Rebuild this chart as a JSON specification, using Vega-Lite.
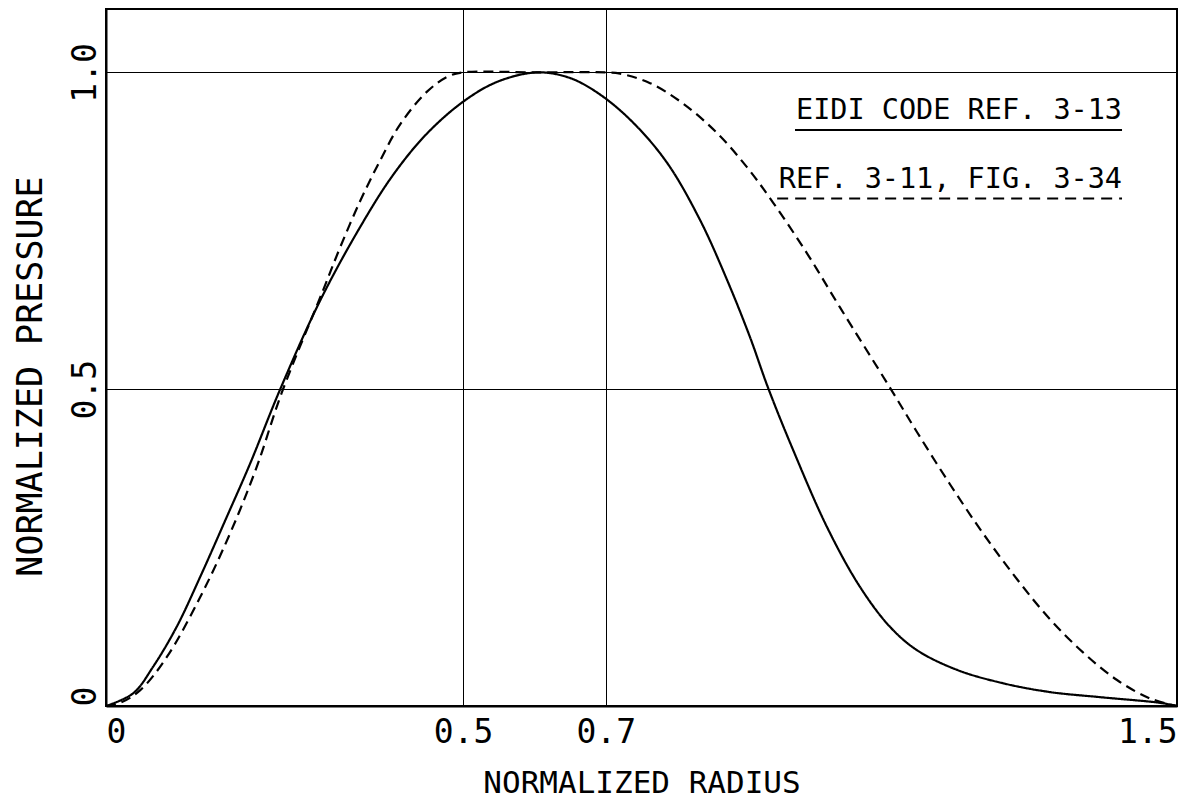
{
  "$schema": "https://vega.github.io/schema/vega-lite/v6.json",
  "width": 1071,
  "height": 697,
  "autosize": "none",
  "padding": {"left": 106, "top": 9, "right": 15, "bottom": 100},
  "background": "white",
  "config": {
    "view": {"stroke": "black", "strokeWidth": 2},
    "font": "DejaVu Sans Mono"
  },
  "data": {
    "values": [
      {"series": "EIDI", "r": 0, "p": 0},
      {"series": "EIDI", "r": 0.038, "p": 0.02},
      {"series": "EIDI", "r": 0.066, "p": 0.062},
      {"series": "EIDI", "r": 0.099, "p": 0.125},
      {"series": "EIDI", "r": 0.132, "p": 0.204},
      {"series": "EIDI", "r": 0.169, "p": 0.298},
      {"series": "EIDI", "r": 0.202, "p": 0.383},
      {"series": "EIDI", "r": 0.244, "p": 0.5},
      {"series": "EIDI", "r": 0.3, "p": 0.64},
      {"series": "EIDI", "r": 0.356, "p": 0.756},
      {"series": "EIDI", "r": 0.402, "p": 0.838},
      {"series": "EIDI", "r": 0.45, "p": 0.904},
      {"series": "EIDI", "r": 0.503, "p": 0.956},
      {"series": "EIDI", "r": 0.55, "p": 0.986},
      {"series": "EIDI", "r": 0.605, "p": 1.0},
      {"series": "EIDI", "r": 0.65, "p": 0.991},
      {"series": "EIDI", "r": 0.692, "p": 0.965},
      {"series": "EIDI", "r": 0.738, "p": 0.921},
      {"series": "EIDI", "r": 0.786, "p": 0.857},
      {"series": "EIDI", "r": 0.832, "p": 0.767},
      {"series": "EIDI", "r": 0.87, "p": 0.672},
      {"series": "EIDI", "r": 0.902, "p": 0.582},
      {"series": "EIDI", "r": 0.927, "p": 0.503},
      {"series": "EIDI", "r": 0.962, "p": 0.405},
      {"series": "EIDI", "r": 1.01, "p": 0.282},
      {"series": "EIDI", "r": 1.056, "p": 0.188},
      {"series": "EIDI", "r": 1.098, "p": 0.125},
      {"series": "EIDI", "r": 1.136, "p": 0.088},
      {"series": "EIDI", "r": 1.192, "p": 0.057},
      {"series": "EIDI", "r": 1.256, "p": 0.036},
      {"series": "EIDI", "r": 1.322, "p": 0.022},
      {"series": "EIDI", "r": 1.392, "p": 0.014},
      {"series": "EIDI", "r": 1.476, "p": 0.005},
      {"series": "EIDI", "r": 1.5, "p": 0},
      {"series": "REF", "r": 0, "p": 0},
      {"series": "REF", "r": 0.02, "p": 0.005},
      {"series": "REF", "r": 0.048, "p": 0.025},
      {"series": "REF", "r": 0.085, "p": 0.077},
      {"series": "REF", "r": 0.132, "p": 0.172},
      {"series": "REF", "r": 0.174, "p": 0.273},
      {"series": "REF", "r": 0.211, "p": 0.377},
      {"series": "REF", "r": 0.246, "p": 0.494},
      {"series": "REF", "r": 0.304, "p": 0.656},
      {"series": "REF", "r": 0.328, "p": 0.724},
      {"series": "REF", "r": 0.356, "p": 0.797},
      {"series": "REF", "r": 0.384, "p": 0.861},
      {"series": "REF", "r": 0.412, "p": 0.918},
      {"series": "REF", "r": 0.45, "p": 0.97},
      {"series": "REF", "r": 0.48, "p": 0.994},
      {"series": "REF", "r": 0.5, "p": 1.0},
      {"series": "REF", "r": 0.6, "p": 1.0},
      {"series": "REF", "r": 0.7, "p": 1.0},
      {"series": "REF", "r": 0.72, "p": 0.998},
      {"series": "REF", "r": 0.762, "p": 0.983},
      {"series": "REF", "r": 0.808, "p": 0.951},
      {"series": "REF", "r": 0.856, "p": 0.904},
      {"series": "REF", "r": 0.898, "p": 0.85},
      {"series": "REF", "r": 0.934, "p": 0.795},
      {"series": "REF", "r": 0.982, "p": 0.714},
      {"series": "REF", "r": 1.028, "p": 0.629},
      {"series": "REF", "r": 1.096, "p": 0.506},
      {"series": "REF", "r": 1.136, "p": 0.432},
      {"series": "REF", "r": 1.182, "p": 0.35},
      {"series": "REF", "r": 1.228, "p": 0.273},
      {"series": "REF", "r": 1.276, "p": 0.2},
      {"series": "REF", "r": 1.322, "p": 0.137},
      {"series": "REF", "r": 1.368, "p": 0.085},
      {"series": "REF", "r": 1.416, "p": 0.041},
      {"series": "REF", "r": 1.462, "p": 0.012},
      {"series": "REF", "r": 1.5, "p": 0}
    ]
  },
  "layer": [
    {
      "mark": {"type": "line", "interpolate": "catmull-rom", "color": "black", "strokeWidth": 2.2},
      "encoding": {
        "x": {
          "field": "r",
          "type": "quantitative",
          "scale": {"domain": [0, 1.5], "nice": false, "zero": false},
          "axis": {
            "values": [0, 0.5, 0.7, 1.5],
            "title": "NORMALIZED RADIUS",
            "labelExpr": "datum.value === 0 ? '0' : format(datum.value, '.1f')",
            "grid": true,
            "gridColor": "black",
            "gridWidth": 1,
            "gridOpacity": 1,
            "ticks": false,
            "domainColor": "black",
            "domainWidth": 2,
            "labelFont": "DejaVu Sans Mono",
            "labelFontSize": 33,
            "labelColor": "black",
            "labelFlush": true,
            "labelOverlap": false,
            "labelBaseline": "top",
            "labelPadding": 10,
            "titleFont": "DejaVu Sans Mono",
            "titleFontSize": 31,
            "titleFontWeight": "normal",
            "titleColor": "black",
            "titlePadding": 19
          }
        },
        "y": {
          "field": "p",
          "type": "quantitative",
          "scale": {"domain": [0, 1.1], "nice": false, "zero": false},
          "axis": {
            "values": [0, 0.5, 1.0],
            "title": "NORMALIZED PRESSURE",
            "labelExpr": "datum.value === 0 ? '0' : format(datum.value, '.1f')",
            "grid": true,
            "gridColor": "black",
            "gridWidth": 1,
            "gridOpacity": 1,
            "ticks": false,
            "domainColor": "black",
            "domainWidth": 2,
            "labelFont": "DejaVu Sans Mono",
            "labelFontSize": 33,
            "labelColor": "black",
            "labelAngle": -90,
            "labelAlign": {"condition": {"test": "datum.value === 0", "value": "left"}, "value": "center"},
            "labelBaseline": "alphabetic",
            "labelFlush": false,
            "labelOverlap": false,
            "labelPadding": 11,
            "titleFont": "DejaVu Sans Mono",
            "titleFontSize": 35,
            "titleFontWeight": "normal",
            "titleColor": "black",
            "titlePadding": 21,
            "titleY": 367
          }
        },
        "strokeDash": {
          "field": "series",
          "type": "nominal",
          "scale": {"domain": ["EIDI", "REF"], "range": [[1, 0], [10, 6]]},
          "legend": null
        }
      }
    },
    {
      "data": {"values": [{}]},
      "mark": {"type": "text", "align": "right", "baseline": "alphabetic", "fontSize": 28.5, "font": "DejaVu Sans Mono", "color": "black"},
      "encoding": {
        "x": {"datum": 1.423, "type": "quantitative"},
        "y": {"datum": 0.926, "type": "quantitative"},
        "text": {"value": "EIDI CODE REF. 3-13"}
      }
    },
    {
      "data": {"values": [{}]},
      "mark": {"type": "text", "align": "right", "baseline": "alphabetic", "fontSize": 28.5, "font": "DejaVu Sans Mono", "color": "black"},
      "encoding": {
        "x": {"datum": 1.423, "type": "quantitative"},
        "y": {"datum": 0.817, "type": "quantitative"},
        "text": {"value": "REF. 3-11, FIG. 3-34"}
      }
    },
    {
      "data": {"values": [{}]},
      "mark": {"type": "rule", "color": "black", "strokeWidth": 2},
      "encoding": {
        "x": {"datum": 0.965, "type": "quantitative"},
        "x2": {"datum": 1.423},
        "y": {"datum": 0.909, "type": "quantitative"}
      }
    },
    {
      "data": {"values": [{}]},
      "mark": {"type": "rule", "color": "black", "strokeWidth": 2, "strokeDash": [11, 7]},
      "encoding": {
        "x": {"datum": 0.94, "type": "quantitative"},
        "x2": {"datum": 1.423},
        "y": {"datum": 0.801, "type": "quantitative"}
      }
    }
  ]
}
